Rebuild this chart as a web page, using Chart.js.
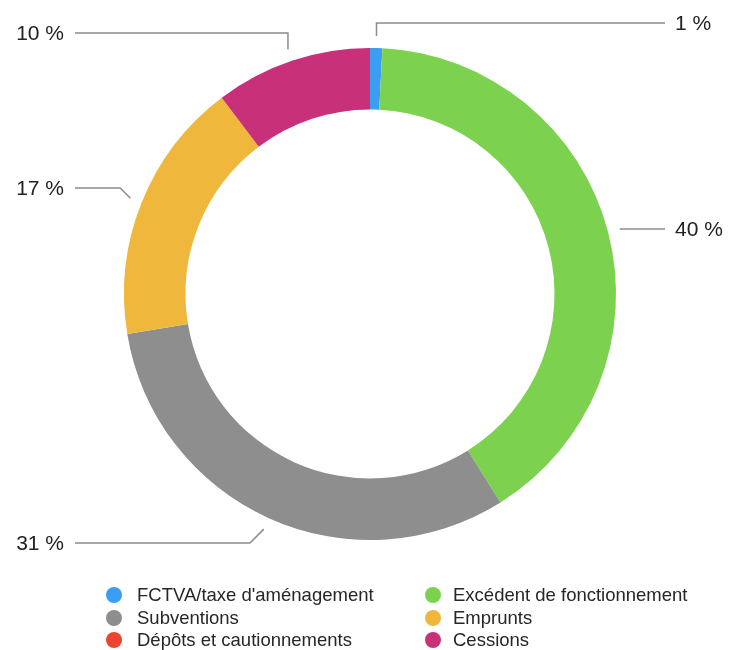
<!DOCTYPE html>
<html lang="fr">
<head>
<meta charset="utf-8">
<script src="https://cdn.jsdelivr.net/npm/chart.js@4"></script>
<style>
  body { margin: 0; background: #fff; }
  #wrap { position: relative; width: 730px; height: 650px; }
  #legend {
    position: absolute; left: 0; top: 584px; width: 730px;
    font-family: "Liberation Sans", Arial, Helvetica, sans-serif;
    font-size: 18.5px; line-height: 22.5px; color: #262626;
  }
  .item { position: absolute; white-space: nowrap; }
  .dot { position: absolute; width: 16px; height: 16px; border-radius: 50%; top: 3px; }
</style>
</head>
<body>
<div id="wrap">
  <canvas id="donut" width="730" height="650"></canvas>
  <div id="legend"></div>
</div>
<script>
// postes de recettes d'investissement
const categories = ["FCTVA/taxe d'aménagement", 'Excédent de fonctionnement', 'Subventions',
                    'Emprunts', 'Dépôts et cautionnements', 'Cessions'];
const parts = [0.8, 40.3, 31.3, 17.3, 0, 10.3];
const colors = ['#3a9ff0', '#7cd24e', '#8e8e8e', '#efb83d', '#ea4330', '#c9307a'];

// hauteur de la ligne horizontale de chaque étiquette (null = même hauteur que le départ)
const labelRows = [23, null, 543, 188, null, 33];

const leaderLabels = {
    id: 'leaderLabels',
    afterDatasetsDraw(chart) {
        const ctx = chart.ctx;
        const meta = chart.getDatasetMeta(0);
        const data = chart.data.datasets[0].data;
        const total = data.reduce((a, b) => a + b, 0);
        ctx.save();
        ctx.strokeStyle = '#8c8c8c';
        ctx.lineWidth = 1.5;
        ctx.fillStyle = '#222';
        ctx.font = '21px "Liberation Sans", Arial, Helvetica, sans-serif';
        ctx.textBaseline = 'middle';
        meta.data.forEach((arc, i) => {
            if (!data[i]) return;
            const p = arc.getProps(['x', 'y', 'startAngle', 'endAngle', 'outerRadius'], true);
            const mid = (p.startAngle + p.endAngle) / 2;
            const r = p.outerRadius + 12;
            const x0 = p.x + Math.cos(mid) * r;
            const y0 = p.y + Math.sin(mid) * r;
            const side = x0 >= p.x ? 1 : -1;
            const yL = labelRows[i] == null ? y0 : labelRows[i];
            const dy = yL - y0;
            // près du sommet : trait vertical, ailleurs : trait à 45°
            const kx = (-Math.sin(mid) > 0.9) ? x0 : x0 + side * Math.abs(dy);
            const xEnd = side > 0 ? 665 : 75;
            ctx.beginPath();
            ctx.moveTo(x0, y0);
            ctx.lineTo(kx, yL);
            ctx.lineTo(xEnd, yL);
            ctx.stroke();
            const txt = Math.round(data[i] / total * 100) + ' %';
            ctx.textAlign = side > 0 ? 'left' : 'right';
            ctx.fillText(txt, side > 0 ? 675 : 64, yL + 1);
        });
        ctx.restore();
    }
};

const donutCtx = document.getElementById('donut').getContext('2d');
const donutChart = new Chart(donutCtx, {
    type: 'doughnut',
    data: {
        labels: categories,
        datasets: [{
            data: parts,
            backgroundColor: colors,
            borderWidth: 0
        }]
    },
    options: {
        responsive: false,
        animation: false,
        devicePixelRatio: 1,
        cutout: '75%',
        layout: { padding: { top: 48, bottom: 110, left: 124, right: 114 } },
        plugins: {
            legend: { display: false },
            tooltip: { enabled: false }
        }
    },
    plugins: [leaderLabels]
});

// légende sur deux colonnes
const legend = document.getElementById('legend');
const colX = [[106, 137], [425, 453]];
categories.forEach((name, i) => {
    const col = colX[i % 2];
    const row = Math.floor(i / 2);
    const dot = document.createElement('span');
    dot.className = 'dot';
    dot.style.left = col[0] + 'px';
    dot.style.top = (row * 22.5 + 3) + 'px';
    dot.style.background = colors[i];
    legend.appendChild(dot);
    const item = document.createElement('span');
    item.className = 'item';
    item.style.left = col[1] + 'px';
    item.style.top = (row * 22.5) + 'px';
    item.textContent = name;
    legend.appendChild(item);
});
</script>
</body>
</html>
